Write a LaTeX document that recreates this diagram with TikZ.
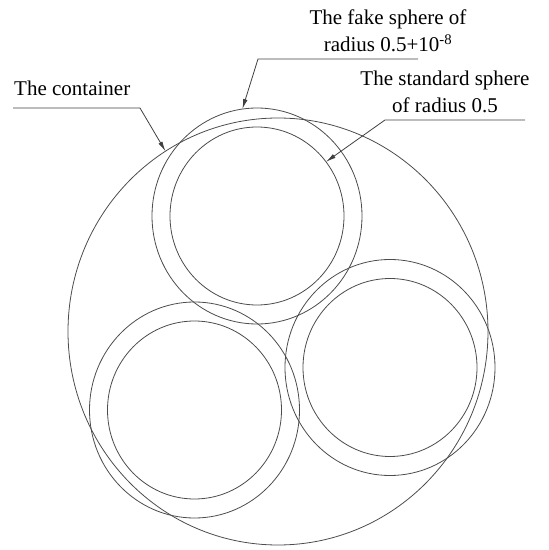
\documentclass[tikz,border=0pt]{standalone}
\usepackage{fontspec}
\setmainfont{Liberation Serif}
\usetikzlibrary{arrows.meta}

\begin{document}
\begin{tikzpicture}[x=1pt,y=1pt,>={Latex[length=10pt,width=4.5pt]},
  ring/.style={draw=black!70,line width=0.8pt},
  lead/.style={draw=black!75,line width=0.8pt,->},
  lbl/.style={inner sep=0pt,align=center,font=\fontsize{21}{27}\selectfont}]
\useasboundingbox (0,0) rectangle (549,550);
% centres
\coordinate (cont) at (278,218.5);
\coordinate (top) at (257,334);
\coordinate (left) at (194.5,140);
\coordinate (right) at (390,182.5);
% the container
\draw[ring] (cont) ellipse [x radius=210,y radius=213.5];
% standard sphere inside, fake sphere outside
\foreach \c in {top,left,right}{
  \draw[ring] (\c) ellipse [x radius=87,y radius=89];
  \draw[ring] (\c) ellipse [x radius=105,y radius=108];
}
% arrow ends on the rings
\path (cont) ++({210*cos(122.4)},{213.5*sin(122.4)}) coordinate (contend);
\path (top) ++({105*cos(98)},{108*sin(98)}) coordinate (fakeend);
\path (top) ++({87*cos(37.5)},{89*sin(37.5)}) coordinate (stdend);
% labels
\node[lbl,anchor=base west] (contlbl) at (14,454) {The container};
\node[lbl,anchor=north] (fakelbl) at (388,540) {The fake sphere of\\radius 0.5+10\textsuperscript{-8}};
\node[lbl,anchor=north] (stdlbl) at (445,479) {The standard sphere\\of radius 0.5};
\coordinate (contA) at (13,442);
\coordinate (contB) at (140,442);
\coordinate (fakeR) at (418,491);
\coordinate (fakeL) at (258,491);
\coordinate (stdR) at (525,430);
\coordinate (stdL) at (385,430);
% leaders
\draw[lead] (contA) -- (contB) -- (contend);
\draw[lead] (fakeR) -- (fakeL) -- (fakeend);
\draw[lead] (stdR) -- (stdL) -- (stdend);
\end{tikzpicture}
\end{document}
